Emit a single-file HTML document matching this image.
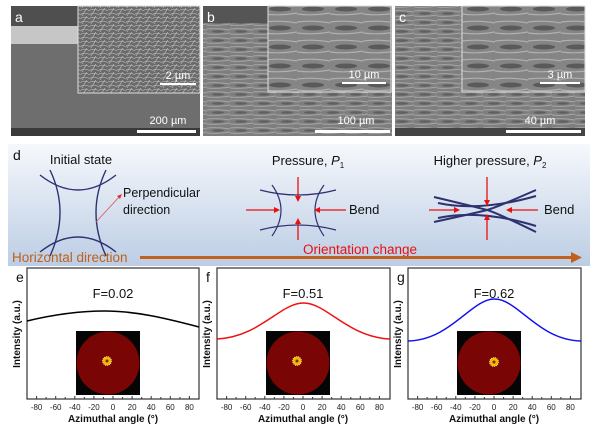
<!DOCTYPE html>
<html><head><meta charset="utf-8"><style>
html,body{margin:0;padding:0;background:#fff;}
svg{display:block;font-family:"Liberation Sans",Arial,sans-serif;}
</style></head><body>
<svg width="600" height="430" viewBox="0 0 600 430" xmlns="http://www.w3.org/2000/svg">
<defs>
<linearGradient id="bg" x1="0" y1="0" x2="0" y2="1">
<stop offset="0" stop-color="#f6f8fc"/><stop offset="1" stop-color="#bccde4"/></linearGradient>
<pattern id="fib" width="9" height="8" patternUnits="userSpaceOnUse">
<rect width="9" height="8" fill="#6a6a6a"/>
<path d="M0 2 Q4 0 9 3 M1 8 Q3 4 6 0 M0 6 Q5 4 9 7" stroke="#b8b8b8" stroke-width="0.7" fill="none"/></pattern>
<pattern id="lay" width="23" height="9" patternUnits="userSpaceOnUse">
<rect width="23" height="9" fill="#7e7e7e"/>
<path d="M0 2 Q11 1 23 3 M0 7 Q10 8 23 6" stroke="#a6a6a6" stroke-width="1" fill="none"/>
<ellipse cx="11" cy="4.5" rx="6" ry="1.2" fill="#606060"/></pattern>
<pattern id="lay2" width="33" height="19" patternUnits="userSpaceOnUse">
<rect width="33" height="19" fill="#858585"/>
<path d="M0 3 Q16 1 33 4 M0 14 Q16 16 33 13" stroke="#b0b0b0" stroke-width="1.2" fill="none"/>
<ellipse cx="16" cy="9" rx="11" ry="2.5" fill="#5a5a5a"/></pattern>
</defs>

<!-- SEM panel a -->
<rect x="11" y="6" width="189" height="130" fill="#6e6e6e"/>
<rect x="11" y="6" width="189" height="20" fill="#4f4f4f"/>
<rect x="11" y="26" width="189" height="18" fill="#c6c6c6"/>
<rect x="11" y="128" width="189" height="8" fill="#3a3a3a"/>
<rect x="78" y="6" width="122" height="87" fill="url(#fib)" stroke="#ddd" stroke-width="1"/>
<text x="15" y="22" font-size="14" fill="#fff">a</text>
<rect x="160" y="83" width="36" height="2" fill="#fff"/>
<text x="178" y="79" font-size="11" fill="#fff" text-anchor="middle">2 µm</text>
<rect x="137" y="130" width="59" height="3" fill="#fff"/>
<text x="168" y="124" font-size="11" fill="#fff" text-anchor="middle">200 µm</text>

<!-- panel b -->
<rect x="203" y="6" width="189" height="130" fill="url(#lay)"/>
<rect x="203" y="6" width="65" height="17" fill="#555"/>
<rect x="268" y="6" width="123" height="86" fill="url(#lay2)" stroke="#ddd" stroke-width="1"/>
<text x="207" y="22" font-size="14" fill="#fff">b</text>
<rect x="342" y="82" width="44" height="2" fill="#fff"/>
<text x="364" y="78" font-size="11" fill="#fff" text-anchor="middle">10 µm</text>
<rect x="315" y="130" width="75" height="3" fill="#fff"/>
<text x="356" y="124" font-size="11" fill="#fff" text-anchor="middle">100 µm</text>

<!-- panel c -->
<rect x="395" y="6" width="190" height="130" fill="url(#lay)"/>
<rect x="395" y="128" width="190" height="8" fill="#444"/>
<rect x="462" y="6" width="123" height="86" fill="url(#lay2)" stroke="#ddd" stroke-width="1"/>
<text x="399" y="22" font-size="14" fill="#fff">c</text>
<rect x="540" y="82" width="40" height="2" fill="#fff"/>
<text x="560" y="78" font-size="11" fill="#fff" text-anchor="middle">3 µm</text>
<rect x="506" y="130" width="75" height="3" fill="#fff"/>
<text x="540" y="124" font-size="11" fill="#fff" text-anchor="middle">40 µm</text>

<!-- panel d -->
<rect x="8" y="144" width="582" height="122" fill="url(#bg)"/>
<text x="13" y="160" font-size="14" fill="#111">d</text>
<text x="81" y="164" font-size="13" fill="#111" text-anchor="middle">Initial state</text>
<g stroke="#2e3270" stroke-width="1.4" fill="none">
<path d="M40 175 Q78 205 116 175"/>
<path d="M40 252 Q78 222 116 252"/>
<path d="M50 170 Q70 212 50 256"/>
<path d="M106 170 Q86 212 106 256"/>
</g>
<line x1="96" y1="222" x2="120" y2="196" stroke="#e05050" stroke-width="0.8"/>
<polygon points="122,194 117,196 120,199" fill="#e03030"/>
<text x="123" y="197" font-size="12.5" fill="#111">Perpendicular</text>
<text x="123" y="214" font-size="12.5" fill="#111">direction</text>

<text x="308" y="165" font-size="13" fill="#111" text-anchor="middle">Pressure, <tspan font-style="italic">P</tspan><tspan font-size="8" dy="3">1</tspan></text>
<g stroke="#2e3270" stroke-width="1.2" fill="none">
<path d="M260 190 Q298 200 336 190"/>
<path d="M260 230 Q298 220 336 230"/>
<path d="M272 185 Q290 210 272 236"/>
<path d="M324 185 Q306 210 324 236"/>
</g>
<g stroke="#e81010" stroke-width="1.3" fill="#e81010">
<line x1="246" y1="210" x2="276" y2="210"/><polygon points="280,210 274,207 274,213" stroke="none"/>
<line x1="346" y1="210" x2="318" y2="210"/><polygon points="314,210 320,207 320,213" stroke="none"/>
<line x1="298" y1="177" x2="298" y2="198"/><polygon points="298,202 295,196 301,196" stroke="none"/>
<line x1="298" y1="240" x2="298" y2="222"/><polygon points="298,218 295,224 301,224" stroke="none"/>
</g>
<text x="349" y="214" font-size="13" fill="#111">Bend</text>

<text x="490" y="165" font-size="13" fill="#111" text-anchor="middle">Higher pressure, <tspan font-style="italic">P</tspan><tspan font-size="8" dy="3">2</tspan></text>
<g stroke="#2e3270" stroke-width="2" fill="none">
<path d="M434 197 Q480 208 487 210 Q495 208 536 190"/>
<path d="M434 222 Q480 212 487 210 Q495 212 536 232"/>
<path d="M438 203 Q480 212 536 196"/>
<path d="M438 218 Q480 209 536 226"/>
</g>
<g stroke="#e81010" stroke-width="1.3" fill="#e81010">
<line x1="429" y1="210" x2="456" y2="210"/><polygon points="460,210 454,207 454,213" stroke="none"/>
<line x1="538" y1="210" x2="510" y2="210"/><polygon points="506,210 512,207 512,213" stroke="none"/>
<line x1="487" y1="177" x2="487" y2="202"/><polygon points="487,206 484,200 490,200" stroke="none"/>
<line x1="487" y1="240" x2="487" y2="218"/><polygon points="487,214 484,220 490,220" stroke="none"/>
</g>
<text x="544" y="214" font-size="13" fill="#111">Bend</text>

<text x="360" y="254" font-size="13.5" fill="#e81010" text-anchor="middle">Orientation change</text>
<text x="12" y="262" font-size="13.5" fill="#c0601a">Horizontal direction</text>
<rect x="140" y="256" width="434" height="3" fill="#c0601a"/>
<polygon points="582,257.5 571,252 571,263" fill="#c0601a"/>

<!-- chart e -->
<g>
<rect x="27" y="268" width="172" height="131" fill="none" stroke="#333" stroke-width="1.2"/>
<text x="16" y="282" font-size="14" fill="#111">e</text>
<text x="113" y="298" font-size="13" fill="#111" text-anchor="middle">F=0.02</text>
<rect x="76" y="331" width="64" height="64" fill="#050505"/>
<circle cx="108" cy="363" r="31.5" fill="#7a0505"/>
<circle cx="107" cy="361" r="4.5" fill="#f5b800" stroke="#fff" stroke-width="0.6" stroke-dasharray="1 1"/>
<circle cx="107" cy="361" r="1.5" fill="#7a3000"/>
<path d="M27 321 C60 313 85 311 105 311 C135 311 165 318 199 327" stroke="#000" stroke-width="1.5" fill="none"/>
<g transform="translate(27,399)" stroke="#333" stroke-width="1">
<path d="M0 0v-3M9.6 0v-3M19.1 0v-2M28.7 0v-3M38.2 0v-2M47.8 0v-3M57.3 0v-2M66.9 0v-3M76.4 0v-2M86 0v-3M95.6 0v-2M105.1 0v-3M114.7 0v-2M124.2 0v-3M133.8 0v-2M143.3 0v-3M152.9 0v-2M162.4 0v-3"/>
</g>
<g font-size="8" fill="#222" text-anchor="middle">
<text x="36.6" y="410">-80</text><text x="55.7" y="410">-60</text><text x="74.8" y="410">-40</text><text x="93.9" y="410">-20</text><text x="113" y="410">0</text><text x="132.1" y="410">20</text><text x="151.2" y="410">40</text><text x="170.3" y="410">60</text><text x="189.4" y="410">80</text>
</g>
<text x="113" y="422" font-size="10" font-weight="bold" fill="#111" text-anchor="middle">Azimuthal angle (°)</text>
<text transform="translate(20,334) rotate(-90)" font-size="10" font-weight="bold" fill="#111" text-anchor="middle">Intensity (a.u.)</text>
</g>

<!-- chart f -->
<g transform="translate(190,0)">
<rect x="27" y="268" width="173" height="131" fill="none" stroke="#333" stroke-width="1.2"/>
<text x="16" y="282" font-size="14" fill="#111">f</text>
<text x="113" y="298" font-size="13" fill="#111" text-anchor="middle">F=0.51</text>
<rect x="76" y="331" width="64" height="64" fill="#050505"/>
<circle cx="108" cy="363" r="31.5" fill="#7a0505"/>
<circle cx="107" cy="361" r="4.5" fill="#f5b800" stroke="#fff" stroke-width="0.6" stroke-dasharray="1 1"/>
<circle cx="107" cy="361" r="1.5" fill="#7a3000"/>
<path d="M27 339 C70 337 90 303 113.5 303 C137 303 157 337 200 339" stroke="#f01010" stroke-width="1.5" fill="none"/>
<g transform="translate(27,399)" stroke="#333" stroke-width="1">
<path d="M0 0v-3M9.6 0v-3M19.1 0v-2M28.7 0v-3M38.2 0v-2M47.8 0v-3M57.3 0v-2M66.9 0v-3M76.4 0v-2M86 0v-3M95.6 0v-2M105.1 0v-3M114.7 0v-2M124.2 0v-3M133.8 0v-2M143.3 0v-3M152.9 0v-2M162.4 0v-3"/>
</g>
<g font-size="8" fill="#222" text-anchor="middle">
<text x="36.6" y="410">-80</text><text x="55.7" y="410">-60</text><text x="74.8" y="410">-40</text><text x="93.9" y="410">-20</text><text x="113" y="410">0</text><text x="132.1" y="410">20</text><text x="151.2" y="410">40</text><text x="170.3" y="410">60</text><text x="189.4" y="410">80</text>
</g>
<text x="113" y="422" font-size="10" font-weight="bold" fill="#111" text-anchor="middle">Azimuthal angle (°)</text>
<text transform="translate(20,334) rotate(-90)" font-size="10" font-weight="bold" fill="#111" text-anchor="middle">Intensity (a.u.)</text>
</g>

<!-- chart g -->
<g transform="translate(381,0)">
<rect x="27" y="268" width="173" height="131" fill="none" stroke="#333" stroke-width="1.2"/>
<text x="16" y="282" font-size="14" fill="#111">g</text>
<text x="113" y="298" font-size="13" fill="#111" text-anchor="middle">F=0.62</text>
<rect x="76" y="331" width="64" height="64" fill="#050505"/>
<circle cx="108" cy="363" r="31.5" fill="#7a0505"/>
<circle cx="113" cy="362" r="4.5" fill="#f5b800" stroke="#fff" stroke-width="0.6" stroke-dasharray="1 1"/>
<circle cx="113" cy="362" r="1.5" fill="#7a3000"/>
<path d="M27 341 C70 340 90 299 113.5 299 C137 299 157 340 200 341" stroke="#1010f0" stroke-width="1.5" fill="none"/>
<g transform="translate(27,399)" stroke="#333" stroke-width="1">
<path d="M0 0v-3M9.6 0v-3M19.1 0v-2M28.7 0v-3M38.2 0v-2M47.8 0v-3M57.3 0v-2M66.9 0v-3M76.4 0v-2M86 0v-3M95.6 0v-2M105.1 0v-3M114.7 0v-2M124.2 0v-3M133.8 0v-2M143.3 0v-3M152.9 0v-2M162.4 0v-3"/>
</g>
<g font-size="8" fill="#222" text-anchor="middle">
<text x="36.6" y="410">-80</text><text x="55.7" y="410">-60</text><text x="74.8" y="410">-40</text><text x="93.9" y="410">-20</text><text x="113" y="410">0</text><text x="132.1" y="410">20</text><text x="151.2" y="410">40</text><text x="170.3" y="410">60</text><text x="189.4" y="410">80</text>
</g>
<text x="113" y="422" font-size="10" font-weight="bold" fill="#111" text-anchor="middle">Azimuthal angle (°)</text>
<text transform="translate(20,334) rotate(-90)" font-size="10" font-weight="bold" fill="#111" text-anchor="middle">Intensity (a.u.)</text>
</g>
</svg>
</body></html>
